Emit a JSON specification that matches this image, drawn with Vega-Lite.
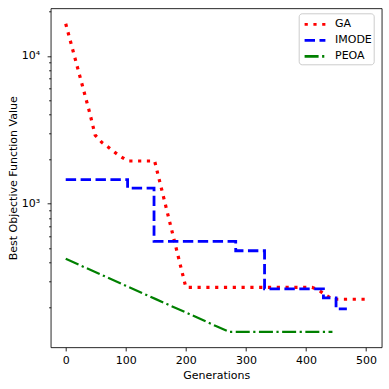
{
  "$schema": "https://vega.github.io/schema/vega-lite/v6.json",
  "width": 331,
  "height": 339,
  "autosize": {"type": "none"},
  "padding": {"left": 50.7, "top": 8.3, "right": 7.3, "bottom": 41.7},
  "background": "white",
  "config": {
    "view": {"stroke": "black", "strokeWidth": 0.85},
    "font": "DejaVu Sans",
    "axis": {
      "domain": false,
      "grid": false,
      "tickColor": "black",
      "tickWidth": 0.85,
      "tickSize": 3.6,
      "labelFontSize": 11,
      "labelColor": "black",
      "labelPadding": 3.5,
      "titleFontSize": 11,
      "titleFontWeight": "normal",
      "titleColor": "black"
    }
  },
  "data": {
    "values": [
      {"series": "GA", "gen": 0, "value": 16470},
      {"series": "GA", "gen": 10, "value": 11650},
      {"series": "GA", "gen": 20, "value": 8230},
      {"series": "GA", "gen": 30, "value": 5820},
      {"series": "GA", "gen": 40, "value": 4110},
      {"series": "GA", "gen": 49, "value": 2910},
      {"series": "GA", "gen": 60, "value": 2600},
      {"series": "GA", "gen": 70, "value": 2430},
      {"series": "GA", "gen": 80, "value": 2255},
      {"series": "GA", "gen": 90, "value": 2100},
      {"series": "GA", "gen": 100, "value": 1985},
      {"series": "GA", "gen": 105, "value": 1945},
      {"series": "GA", "gen": 148, "value": 1945},
      {"series": "GA", "gen": 200, "value": 272},
      {"series": "GA", "gen": 410, "value": 272},
      {"series": "GA", "gen": 420, "value": 262},
      {"series": "GA", "gen": 432, "value": 242},
      {"series": "GA", "gen": 445, "value": 226},
      {"series": "GA", "gen": 498, "value": 226},
      {"series": "IMODE", "gen": 0, "value": 1454},
      {"series": "IMODE", "gen": 103, "value": 1274},
      {"series": "IMODE", "gen": 147, "value": 557},
      {"series": "IMODE", "gen": 283, "value": 481},
      {"series": "IMODE", "gen": 331, "value": 266},
      {"series": "IMODE", "gen": 429, "value": 231},
      {"series": "IMODE", "gen": 450, "value": 194.5},
      {"series": "IMODE", "gen": 468, "value": 194.5},
      {"series": "PEOA", "gen": 0, "value": 424},
      {"series": "PEOA", "gen": 50, "value": 344},
      {"series": "PEOA", "gen": 100, "value": 279},
      {"series": "PEOA", "gen": 150, "value": 226.5},
      {"series": "PEOA", "gen": 200, "value": 184},
      {"series": "PEOA", "gen": 250, "value": 149},
      {"series": "PEOA", "gen": 272, "value": 136},
      {"series": "PEOA", "gen": 444, "value": 136}
    ]
  },
  "encoding": {
    "x": {
      "field": "gen",
      "type": "quantitative",
      "scale": {"domain": [-25, 526], "nice": false, "zero": false},
      "axis": {"values": [0, 100, 200, 300, 400, 500], "title": "Generations", "titlePadding": 4}
    },
    "y": {
      "field": "value",
      "type": "quantitative",
      "scale": {"type": "log", "domain": [107, 20950], "nice": false},
      "axis": {
        "values": [200, 300, 400, 500, 600, 700, 800, 900, 1000, 2000, 3000, 4000, 5000, 6000, 7000, 8000, 9000, 10000, 20000],
        "labelExpr": "datum.value == 1000 ? '10³' : datum.value == 10000 ? '10⁴' : ''",
        "tickSize": {"condition": {"test": "datum.value == 1000 || datum.value == 10000", "value": 3.6}, "value": 2.1},
        "labelPadding": 7.5,
        "title": "Best Objective Function Value",
        "titlePadding": 3
      }
    },
    "color": {
      "field": "series",
      "type": "nominal",
      "scale": {"domain": ["GA", "IMODE", "PEOA"], "range": ["#ff0000", "#0000ff", "#008000"]},
      "legend": {
        "orient": "none",
        "legendX": 248,
        "legendY": 5,
        "title": null,
        "symbolType": "M-1.3,0H1.3",
        "symbolSize": 256,
        "symbolStrokeWidth": 2.8,
        "symbolFillColor": "transparent",
        "symbolOffset": 5.3,
        "labelFontSize": 11,
        "labelColor": "black",
        "labelOffset": 10.5,
        "padding": 1.5,
        "rowPadding": 0,
        "strokeColor": "#cccccc",
        "cornerRadius": 3,
        "fillColor": "white"
      }
    },
    "strokeDash": {
      "field": "series",
      "type": "nominal",
      "scale": {"domain": ["GA", "IMODE", "PEOA"], "range": [[3.2, 5.6], [10.4, 4.5], [14, 3.5, 2.2, 3.5]]}
    }
  },
  "layer": [
    {
      "transform": [{"filter": "datum.series == 'GA'"}],
      "mark": {"type": "line", "strokeWidth": 3.2, "strokeCap": "butt"}
    },
    {
      "transform": [{"filter": "datum.series == 'IMODE'"}],
      "mark": {"type": "line", "strokeWidth": 2.8, "interpolate": "step-after", "strokeCap": "butt"}
    },
    {
      "transform": [{"filter": "datum.series == 'PEOA'"}],
      "mark": {"type": "line", "strokeWidth": 2.2, "strokeCap": "butt"}
    }
  ]
}
